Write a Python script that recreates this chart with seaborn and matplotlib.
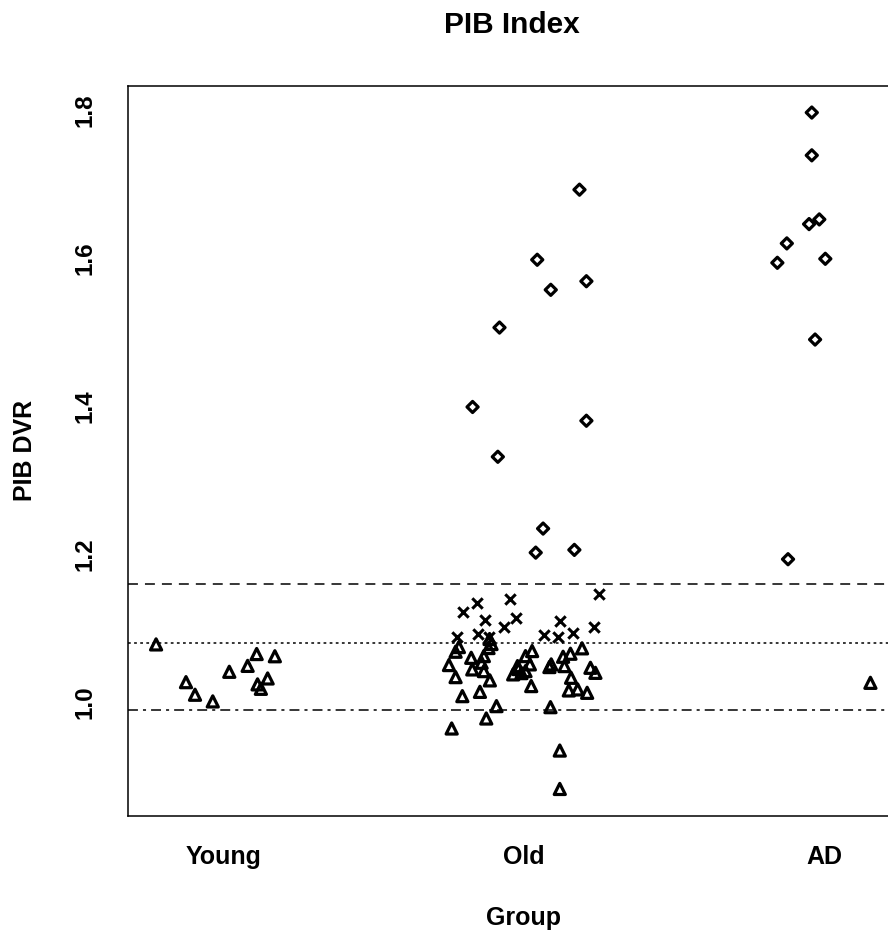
import numpy as np
import pandas as pd
import matplotlib
matplotlib.use("Agg")
import matplotlib.pyplot as plt
import seaborn as sns

# ---------------- data ----------------
groups = ["Young", "Old", "AD"]
group_label_pos = [0.5, 2.5, 4.5]
x_ticks = [0, 1, 2, 3, 4]
y_ticks = [1.0, 1.2, 1.4, 1.6, 1.8]
cutoffs = [1.16, 1.08, 0.99]

# triangles (PIB negative)
tri_x = [0.053, 0.252, 0.312, 0.430, 0.540, 0.662, 0.722, 0.728, 0.750, 0.795, 0.843,
         2.271, 2.284, 2.264, 2.067, 2.045, 2.149, 2.001, 2.233, 2.218, 2.156,
         2.233, 2.045, 2.273, 2.207, 2.090, 2.317, 2.249, 2.019, 2.457, 2.483,
         2.510, 2.554, 2.539, 2.428, 2.510, 2.463, 2.681, 2.760, 2.809, 2.886,
         2.769, 2.942, 2.975, 2.813, 2.548, 2.798, 2.857, 2.920, 2.676, 2.738,
         2.738, 2.669,
         4.804]
tri_y = [1.078, 1.027, 1.010, 1.001, 1.041, 1.049, 1.065, 1.024, 1.018, 1.032, 1.062,
         1.0853, 1.0785, 1.0731, 1.0744, 1.0681, 1.0599, 1.0501, 1.0622, 1.0532, 1.0442,
         1.0419, 1.0338, 1.0294, 1.0139, 1.0081, 0.9946, 0.9779, 0.9644, 1.0487, 1.0392,
         1.0622, 1.0690, 1.0510, 1.0375, 1.0419, 1.0447, 1.0510, 1.0613, 1.0654, 1.0727,
         1.0487, 1.0464, 1.0396, 1.0329, 1.0217, 1.0158, 1.0172, 1.0126, 0.9932, 0.9346,
         0.8827, 1.0474,
         1.0261]

# crosses (borderline)
cross_x = [2.189, 2.410, 2.096, 2.238, 2.450, 2.366, 2.196, 2.056, 2.266,
           2.997, 2.738, 2.636, 2.727, 2.827, 2.968]
cross_y = [1.1336, 1.139, 1.122, 1.111, 1.114, 1.101, 1.092, 1.088, 1.088,
           1.1466, 1.110, 1.091, 1.088, 1.094, 1.1015]

# diamonds (PIB positive)
dia_x = [2.869, 2.588, 2.915, 2.678, 2.337, 2.158, 2.915, 2.326, 2.627, 2.578, 2.835,
         4.414, 4.414, 4.464, 4.396, 4.248, 4.185, 4.504, 4.436, 4.256]
dia_y = [1.6924, 1.5977, 1.5687, 1.5571, 1.5061, 1.3988, 1.3802, 1.3315, 1.2345, 1.2020, 1.2057,
         1.7966, 1.7388, 1.6522, 1.6459, 1.6198, 1.5936, 1.5990, 1.4899, 1.1931]

tri = pd.DataFrame({"x": tri_x, "y": tri_y})
cross = pd.DataFrame({"x": cross_x, "y": cross_y})
dia = pd.DataFrame({"x": dia_x, "y": dia_y})

# ---------------- figure ----------------
sns.set_style("white")
plt.rcParams["font.family"] = ["Liberation Sans", "DejaVu Sans"]
plt.rcParams["font.weight"] = "bold"
plt.rcParams["text.color"] = "black"
plt.rcParams["axes.labelcolor"] = "black"
plt.rcParams["xtick.color"] = "black"
plt.rcParams["ytick.color"] = "black"
plt.rcParams["axes.edgecolor"] = "black"

W, H = 888, 933
fig = plt.figure(figsize=(W / 100, H / 100), dpi=100)
left, right, top, bottom = 127.5, 899.0, 85.5, 816.0
ax = fig.add_axes([left / W, (H - bottom) / H, (right - left) / W, (bottom - top) / H])

sns.scatterplot(data=tri, x="x", y="y", marker="^", s=64, facecolor="none",
                edgecolor="black", linewidth=2.3, ax=ax, zorder=3)
sns.scatterplot(data=cross, x="x", y="y", marker="x", s=56, color="black",
                linewidth=2.2, ax=ax, zorder=3)
sns.scatterplot(data=dia, x="x", y="y", marker="D", s=32, facecolor="none",
                edgecolor="black", linewidth=2.3, ax=ax, zorder=3)

ax.axhline(cutoffs[0], color="black", lw=1.1, linestyle=(0, (6.5, 4.6)), zorder=2)
ax.axhline(cutoffs[1], color="black", lw=1.1, linestyle=(0, (1.8, 2.2)), zorder=2)
ax.axhline(cutoffs[2], color="black", lw=1.1, linestyle=(0, (6.5, 3.3, 2.0, 3.3)), zorder=2)

# R-like 4% axis extension
ymin, ymax = min(tri_y + cross_y + dia_y), max(tri_y + cross_y + dia_y)
yr = ymax - ymin
ax.set_ylim(ymin - 0.04 * yr, ymax + 0.04 * yr)
xmin, xmax = min(tri_x + cross_x + dia_x), max(tri_x + cross_x + dia_x)
xr = xmax - xmin
ax.set_xlim(xmin - 0.04 * xr, xmax + 0.04 * xr)

ax.set_yticks(y_ticks)
ax.set_yticklabels([f"{v:.1f}" for v in y_ticks], rotation=90, va="center",
                   fontsize=17.5, fontweight="bold", color="black")
ax.set_xticks(x_ticks)
ax.set_xticklabels([""] * len(x_ticks))
ax.set_xticks(group_label_pos, minor=True)
ax.set_xticklabels(groups, minor=True, fontsize=18, fontweight="bold", color="black")
ax.tick_params(axis="both", which="major", length=11, width=1.1, color="black",
               direction="out")
ax.tick_params(axis="y", which="major", pad=11)
ax.tick_params(axis="x", which="minor", length=0, pad=21)
ax.set_xlabel("")
ax.set_ylabel("")

for sp in ax.spines.values():
    sp.set_visible(True)
    sp.set_color("black")
    sp.set_linewidth(1.1)

fig.text(512 / W, 1 - 25 / H, "PIB Index", ha="center", va="center",
         fontsize=21.5, fontweight="bold", color="black")
fig.text(523 / W, 1 - 918 / H, "Group", ha="center", va="center",
         fontsize=18, fontweight="bold", color="black")
fig.text(25 / W, 1 - 450 / H, "PIB DVR", ha="center", va="center", rotation=90,
         fontsize=18, fontweight="bold", color="black")

fig.savefig("out.png", dpi=100, facecolor="white")
